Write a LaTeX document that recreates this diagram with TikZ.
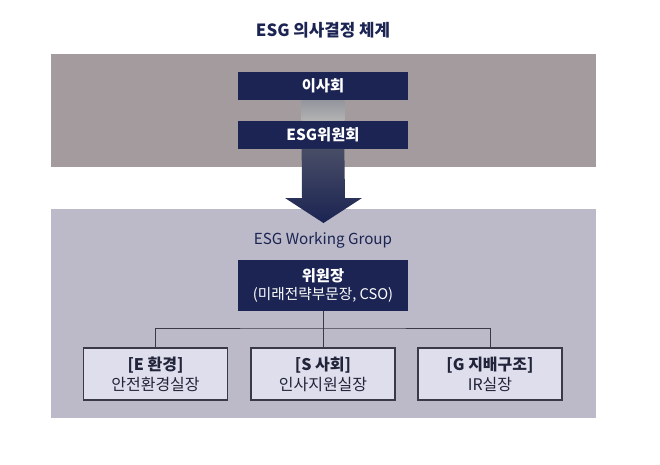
\documentclass[tikz,border=0pt]{standalone}
\usepackage{fontspec}
\setmainfont{Noto Sans CJK KR}
\usetikzlibrary{positioning}
\definecolor{esgnavy}{HTML}{1B2452}
\definecolor{boardgray}{HTML}{A39B9E}
\definecolor{groupgray}{HTML}{BCBAC9}
\definecolor{teamfill}{HTML}{DEDEEC}
\definecolor{linegray}{HTML}{3A3A46}
\definecolor{teamtext}{HTML}{22243A}

\begin{document}
\begin{tikzpicture}[x=0.75pt,y=-0.75pt,
  navybox/.style={fill=esgnavy,text=white,font=\fontsize{11.5}{14}\selectfont\bfseries,
    minimum width=128pt,minimum height=21pt,inner sep=0pt},
  teambox/.style={draw=linegray,line width=0.8pt,fill=teamfill,text=teamtext,align=center,
    minimum width=108pt,minimum height=39pt,inner sep=0pt,font=\fontsize{12}{15}\selectfont},
  tree/.style={draw=linegray,line width=0.6pt}]
\useasboundingbox (0,0) rectangle (660,464);
\fill[boardgray] (51,54) rectangle (596,167);
\fill[groupgray] (51,209) rectangle (596,418);
\node[font=\fontsize{12.6}{14}\selectfont\bfseries,text=esgnavy] (title) at (323,30) {ESG 의사결정 체계};
\node[navybox] (board) at (323,86) {이사회};
\node[navybox] (esgc) at (323,134.5) {ESG위원회};
\shade[top color=gray!75!esgnavy!70,bottom color=gray!60] ([xshift=-16pt]board.south) rectangle ([xshift=16pt]esgc.north);
\shade[top color=esgnavy!55!gray,bottom color=esgnavy]
  ([xshift=-16pt]esgc.south) -- (302,198) -- (285,198) -- (323.5,223) -- (362,198) -- (345,198)
  -- ([xshift=16pt]esgc.south) -- cycle;
\node[text=esgnavy,font=\fontsize{11.4}{13}\selectfont] (wg) at (323,240) {ESG Working Group};
\node[navybox,minimum height=38.25pt,align=center,font=\fontsize{11.5}{13.5}\selectfont] (chair) at (323,285.5)
  {\bfseries 위원장\\{\fontsize{11}{13.5}\selectfont (미래전략부문장, CSO)}};
\node[teambox] (env) at (155.5,374) {\textbf{[E 환경]}\\안전환경실장};
\node[teambox] (soc) at (323,374) {\textbf{[S 사회]}\\인사지원실장};
\node[teambox] (gov) at (490,374) {\textbf{[G 지배구조]}\\IR실장};
\coordinate (fork) at (323,328);
\draw[tree] (chair.south) -- (fork);
\draw[tree] (env.north) |- (fork) -| (gov.north);
\draw[tree] (fork) -- (soc.north);
\end{tikzpicture}
\end{document}
